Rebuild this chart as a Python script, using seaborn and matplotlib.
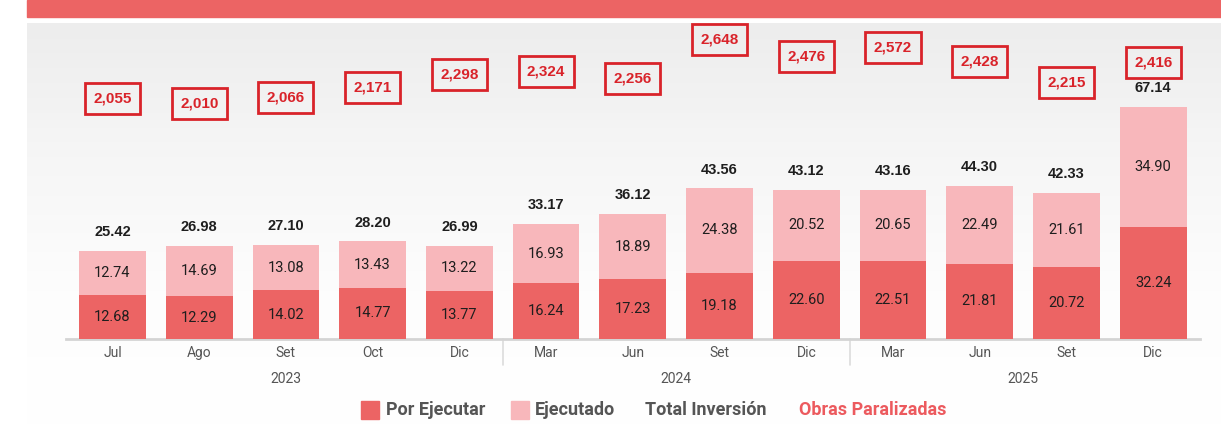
import numpy as np
import pandas as pd
import matplotlib
matplotlib.use("Agg")
import matplotlib.pyplot as plt
from matplotlib.patches import Rectangle
from matplotlib.colors import LinearSegmentedColormap
import matplotlib.transforms as mtransforms
import seaborn as sns

# ---- data ----
months = ["Jul", "Ago", "Set", "Oct", "Dic", "Mar", "Jun", "Set", "Dic", "Mar", "Jun", "Set", "Dic"]
years = ["2023"] * 5 + ["2024"] * 4 + ["2025"] * 4
por_ejecutar = [12.68, 12.29, 14.02, 14.77, 13.77, 16.24, 17.23, 19.18, 22.60, 22.51, 21.81, 20.72, 32.24]
ejecutado = [12.74, 14.69, 13.08, 13.43, 13.22, 16.93, 18.89, 24.38, 20.52, 20.65, 22.49, 21.61, 34.90]
total_inversion = [25.42, 26.98, 27.10, 28.20, 26.99, 33.17, 36.12, 43.56, 43.12, 43.16, 44.30, 42.33, 67.14]
obras_paralizadas = [2055, 2010, 2066, 2171, 2298, 2324, 2256, 2648, 2476, 2572, 2428, 2215, 2416]
year_labels = ["2023", "2024", "2025"]

DARK = "#EC6464"
LIGHT = "#F8B7BB"
BOX_RED = "#D9232A"
TXT = "#1E1E1E"
GRAY = "#555555"

df = pd.DataFrame({
    "periodo": [f"{m}-{y}-{i}" for i, (m, y) in enumerate(zip(months, years))],
    "por": por_ejecutar,
    "ejec": ejecutado,
    "total": total_inversion,
    "obras": obras_paralizadas,
})

sns.set_theme(style="white")
plt.rcParams["font.family"] = ["Roboto", "DejaVu Sans"]

W, H = 1221, 425
fig = plt.figure(figsize=(W / 100, H / 100), dpi=100, facecolor="white")

# background panel with vertical gradient
bg = fig.add_axes([27 / W, 0, 1 - 27 / W, (H - 23) / H], zorder=-10)
grad = np.linspace(0, 1, 256).reshape(-1, 1)
cmap = LinearSegmentedColormap.from_list("g", ["#EDEDED", "#F6F6F6", "#FDFDFD", "#FFFFFF"])
bg.imshow(grad, aspect="auto", cmap=cmap, extent=[0, 1, 0, 1], origin="upper")
bg.set_axis_off()

# red banner on top
fig.patches.append(Rectangle((27 / W, (H - 17) / H), 1 - 27 / W, 17 / H,
                             transform=fig.transFigure, color=DARK, zorder=5))

# main axes
ax_bottom = (H - 339) / H
ax_top = (H - 30) / H
ax_left = 66 / W
ax_right = 1200 / W
ax = fig.add_axes([ax_left, ax_bottom, ax_right - ax_left, ax_top - ax_bottom])
ax.set_facecolor("none")

order = list(df["periodo"])
sns.barplot(data=df, x="periodo", y="total", order=order, color=LIGHT,
            saturation=1, width=0.77, ax=ax, linewidth=0, zorder=2)
sns.barplot(data=df, x="periodo", y="por", order=order, color=DARK,
            saturation=1, width=0.77, ax=ax, linewidth=0, zorder=3)

n = len(months)
ax.set_xlim(-0.536, n - 1 + 0.54)
ax.set_ylim(0, 309 / 3.46)
ax.set_xlabel("")
ax.set_ylabel("")
ax.set_yticks([])
ax.set_xticks(range(n))
ax.set_xticklabels(months, fontsize=10, color=GRAY)
ax.tick_params(axis="x", length=0, pad=5)
for s in ["top", "right", "left"]:
    ax.spines[s].set_visible(False)
ax.spines["bottom"].set_color("#D4D4D4")
ax.spines["bottom"].set_linewidth(2)

# segment labels
for i in range(n):
    p, e, t = por_ejecutar[i], ejecutado[i], total_inversion[i]
    ax.text(i, p / 2, f"{p:.2f}", ha="center", va="center", fontsize=10.5, color=TXT, zorder=5)
    ax.text(i, p + e / 2, f"{e:.2f}", ha="center", va="center", fontsize=10.5, color=TXT, zorder=5)
    ax.annotate(f"{t:.2f}", xy=(i, t), xytext=(0, 13.5), textcoords="offset points",
                ha="center", va="center", fontsize=10.5, fontweight="bold", color=TXT,
                family=["Liberation Sans", "DejaVu Sans"], zorder=5)

# group separators and year labels
trans = mtransforms.blended_transform_factory(ax.transData, ax.transAxes)
groups = {}
for i, y in enumerate(years):
    groups.setdefault(y, []).append(i)
keys = list(groups.keys())
for k in range(len(keys) - 1):
    xsep = (groups[keys[k]][-1] + groups[keys[k + 1]][0]) / 2
    ax.plot([xsep, xsep], [0, -26 / 309], transform=trans, color="#DCDCDC", lw=1.2,
            clip_on=False, zorder=1)
for y in year_labels:
    idx = groups[y]
    ax.text(np.mean(idx), -40 / 309, y, transform=trans, ha="center", va="center",
            fontsize=10, color=GRAY)

# obras paralizadas on secondary axis
ax2 = ax.twinx()
ax2.set_ylim(-347, 2743)
ax2.set_yticks([])
for s in ax2.spines.values():
    s.set_visible(False)
ax2.plot(range(n), obras_paralizadas, alpha=0)
for i, v in enumerate(obras_paralizadas):
    ax2.text(i, v, f"{v:,}", ha="center", va="center", fontsize=11, fontweight="bold",
             color=BOX_RED, family=["Liberation Sans", "DejaVu Sans"],
             bbox=dict(boxstyle="square,pad=0.55", fc="none", ec=BOX_RED, lw=2))

# legend (manual)
ly = (H - 410) / H
sq = 18
for x0, col in [(361, DARK), (511, LIGHT)]:
    fig.patches.append(Rectangle((x0 / W, (H - 419) / H), sq / W, sq / H,
                                 transform=fig.transFigure, color=col))
leg_items = [(386, "Por Ejecutar", GRAY), (535, "Ejecutado", GRAY),
             (645, "Total Inversión", GRAY), (799, "Obras Paralizadas", "#EC5A5E")]
for x0, label, col in leg_items:
    fig.text(x0 / W, ly, label, ha="left", va="center", fontsize=13,
             fontweight="bold", color=col)

fig.savefig("out.png", dpi=100, facecolor="white")
